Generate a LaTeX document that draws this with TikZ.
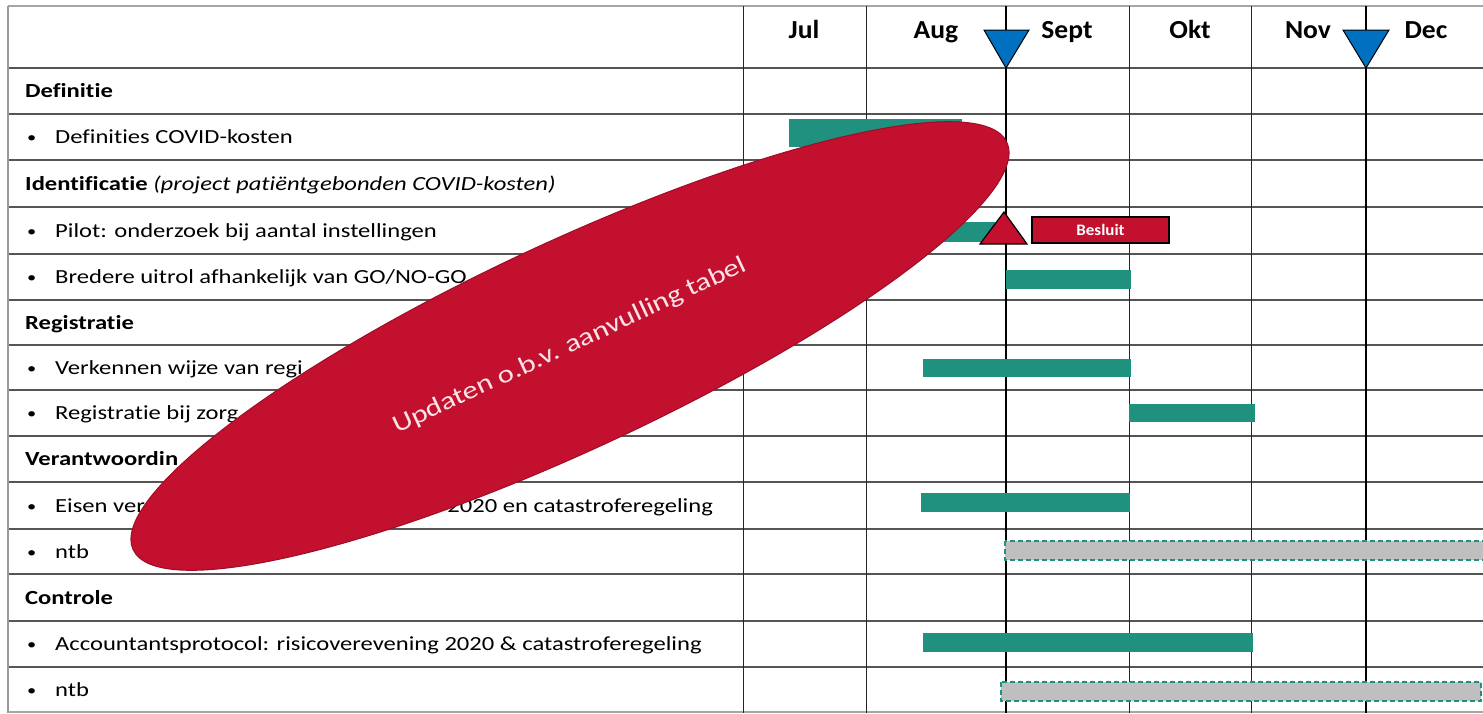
\documentclass[tikz,border=0pt]{standalone}
\usepackage{fontspec}
\setmainfont{Carlito}
\newfontfamily\lf[FakeStretch=1.23,Ligatures=NoCommon]{Carlito}
\newfontfamily\hf[FakeStretch=1.06]{Carlito}
\usetikzlibrary{shapes.geometric}
\definecolor{barteal}{RGB}{32,145,127}
\definecolor{bargray}{RGB}{191,191,191}
\definecolor{redc}{RGB}{194,16,46}
\definecolor{reddark}{RGB}{160,12,38}
\definecolor{msblue}{RGB}{0,112,192}
\definecolor{gridgray}{RGB}{85,85,85}
\definecolor{ellText}{RGB}{250,228,232}
\begin{document}
\begin{tikzpicture}[x=1pt,y=-1pt,
  lbl/.style={anchor=base west, inner sep=0pt, font=\lf\fontsize{20}{24}\selectfont},
  bul/.style={anchor=base west, inner sep=0pt, font=\lf\fontsize{15}{18}\selectfont},
  sec/.style={anchor=base west, inner sep=0pt, font=\lf\bfseries\fontsize{20}{24}\selectfont},
  lblr/.style={anchor=base east, inner sep=0pt, font=\lf\fontsize{20}{24}\selectfont},
  mon/.style={anchor=base, inner sep=0pt, font=\hf\bfseries\fontsize{26}{30}\selectfont},
  bar/.style={fill=barteal, draw=none},
  tbd/.style={fill=bargray, draw=barteal, line width=1.3pt, dash pattern=on 5pt off 3pt},
  hline/.style={draw=gridgray, line width=1.1pt},
  vline/.style={draw=black!85, line width=1pt},
  msline/.style={draw=black, line width=1.4pt},
  msdown/.style={fill=msblue, draw=black, line width=1pt, line join=miter},
  msup/.style={fill=redc, draw=black, line width=1.2pt, line join=miter}
]
\useasboundingbox (0,0) rectangle (1483,713);
\fill[white] (0,0) rectangle (1483,713);

% horizontal grid
\draw[draw=gray!70, line width=1.1pt] (8,6) -- (1483,6);
\draw[draw=gridgray, line width=1.8pt] (8,68) -- (1483,68);
\foreach \yy in {114,160,207,254,300,345,390,436,482,529,574,621,667}
  \draw[hline] (8,\yy) -- (1483,\yy);
\draw[draw=gray!70, line width=1.1pt] (8,712) -- (1483,712);

% vertical grid
\draw[draw=gray!80, line width=1.1pt] (8,6) -- (8,713);
\foreach \xx in {743,866,1129,1251}
  \draw[vline] (\xx,6) -- (\xx,713);
\draw[msline] (1006,6) -- (1006,713);
\draw[msline] (1366,6) -- (1366,713);

% month labels
\node[mon] (jul) at (804,38) {Jul};
\node[mon] (aug) at (936,38) {Aug};
\node[mon] (sep) at (1067,38) {Sept};
\node[mon] (okt) at (1190,38) {Okt};
\node[mon] (nov) at (1308,38) {Nov};
\node[mon] (dec) at (1426,38) {Dec};

% milestone markers (header)
\draw[msdown] (984,30) -- (1029,30) -- (1006,68) -- cycle;
\draw[msdown] (1343,30) -- (1389,30) -- (1366,68) -- cycle;

% row labels
\node[sec] (s0) at (25,97.5) {Definitie};
\node[bul] (u1) at (27,142.5) {•};
\node[lbl] (t1) at (55,143.5) {Definities COVID-kosten};
\node[sec] (s2) at (25,190) {Identificatie \normalfont\lf\itshape(project patiëntgebonden COVID-kosten)};
\node[bul] (u3) at (27,236) {•};
\node[lbl] (t3) at (55,237) {Pilot: onderzoek bij aantal instellingen};
\node[bul] (u4) at (27,282.5) {•};
\node[lbl] (t4) at (55,283.5) {Bredere uitrol afhankelijk van GO/NO-GO};
\node[sec] (s5) at (25,329) {Registratie};
\node[bul] (u6) at (27,373) {•};
\node[lbl] (t6) at (55,374) {Verkennen wijze van regi};
\node[bul] (u7) at (27,418.5) {•};
\node[lbl] (t7) at (55,419.5) {Registratie bij zorg};
\node[sec] (s8) at (25,465.5) {Verantwoordin};
\node[bul] (u9) at (27,511) {•};
\node[lbl] (t9) at (55,512) {Eisen ver};
\node[lblr] (t9b) at (713,512) {2020 en catastroferegeling};
\node[bul] (u10) at (27,557) {•};
\node[lbl] (t10) at (55,558) {ntb};
\node[sec] (s11) at (25,604) {Controle};
\node[bul] (u12) at (27,649.5) {•};
\node[lbl] (t12) at (55,650.5) {Accountantsprotocol: risicoverevening 2020 \& catastroferegeling};
\node[bul] (u13) at (27,695.5) {•};
\node[lbl] (t13) at (55,696.5) {ntb};

% bars
\path[bar] (789,119) rectangle (962,147);
\path[bar] (923,222) rectangle (995,242);
\path[bar] (1006,270) rectangle (1131,289);
\path[bar] (923,359) rectangle (1131,377);
\path[bar] (1129,404) rectangle (1255,422);
\path[bar] (921,493) rectangle (1130,512);
\path[bar] (923,633) rectangle (1253,652);
\path[tbd] (1005,541) rectangle (1495,560);
\path[tbd] (1001,682) rectangle (1481,701);

% overlay ellipse
\node[ellipse, fill=redc, draw=reddark, line width=1pt, rotate=25,
      minimum width=964pt, minimum height=207pt, inner sep=0pt,
      text=ellText, font=\lf\fontsize{25}{30}\selectfont] (ell) at (570,346)
      {Updaten o.b.v. aanvulling tabel};

% decision milestone
\draw[msup] (1004,212) -- (1027,244) -- (980,244) -- cycle;
\node[draw=black, fill=redc, line width=1.2pt, minimum width=137pt, minimum height=26pt,
      inner sep=0pt, text=white, font=\hf\bfseries\fontsize{16}{18}\selectfont]
      (besluit) at (1100.5,230) {Besluit};
\end{tikzpicture}
\end{document}
